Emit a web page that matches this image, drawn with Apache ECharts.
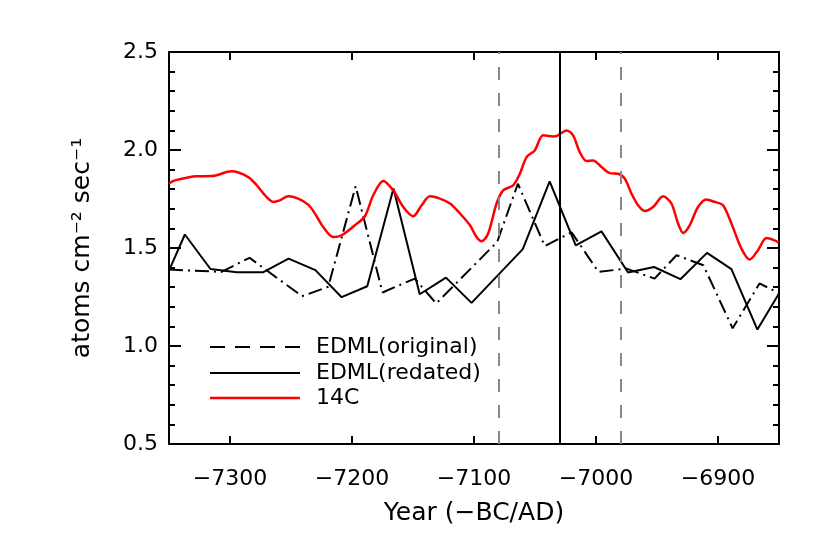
<!DOCTYPE html>
<html>
<head>
<meta charset="utf-8">
<script src="https://cdn.jsdelivr.net/npm/echarts@6/dist/echarts.min.js"></script>
<style>html,body{margin:0;padding:0;background:#fff}#c{width:830px;height:552px}</style>
</head>
<body>
<div id="c"></div>
<script>
// ---- data ----
const yearsOriginal = [-7350, -7307, -7284, -7241, -7219.5, -7197, -7175, -7148.5, -7131, -7081, -7064, -7042, -7020, -6998, -6975, -6952, -6934, -6912, -6888, -6866, -6850];
const edmlOriginal  = [1.39, 1.378, 1.45, 1.254, 1.302, 1.815, 1.273, 1.344, 1.217, 1.531, 1.828, 1.510, 1.58, 1.378, 1.395, 1.344, 1.463, 1.412, 1.09, 1.319, 1.27];

const yearsRedated = [-7350, -7337, -7316, -7294.5, -7273, -7252, -7230, -7208.5, -7187.5, -7166, -7144.5, -7123, -7102, -7060, -7038, -7016.6, -6995.5, -6973.7, -6952.4, -6930.8, -6909, -6889, -6867.7, -6850];
const edmlRedated  = [1.385, 1.569, 1.393, 1.376, 1.376, 1.446, 1.387, 1.249, 1.305, 1.803, 1.264, 1.349, 1.220, 1.494, 1.840, 1.514, 1.585, 1.375, 1.403, 1.341, 1.475, 1.392, 1.084, 1.268];

const years14C = [-7350, -7345.1, -7327.3, -7315.0, -7298.6, -7285.0, -7278.1, -7271.3, -7264.5, -7259.1, -7252.3, -7244.1, -7235.9, -7230.4, -7223.6, -7215.4, -7208.5, -7197.6, -7189.4, -7182.6, -7174.4, -7166.2, -7158.0, -7149.9, -7142.9, -7136.2, -7128.0, -7119.7, -7111.5, -7103.3, -7097.9, -7093.8, -7088.4, -7081.5, -7076.1, -7067.9, -7062.4, -7056.9, -7050.2, -7043.3, -7035.2, -7031.1, -7024.2, -7018.8, -7013.3, -7007.8, -7002.4, -6995.5, -6988.7, -6981.9, -6976.4, -6970.9, -6965.5, -6960.0, -6953.2, -6945.0, -6938.2, -6932.7, -6928.6, -6923.2, -6916.4, -6909.5, -6902.7, -6895.9, -6889.0, -6880.8, -6874.0, -6867.2, -6860.3, -6853.6, -6850.3];
const vals14C  = [1.830, 1.845, 1.866, 1.867, 1.891, 1.862, 1.820, 1.769, 1.735, 1.743, 1.764, 1.752, 1.721, 1.676, 1.607, 1.556, 1.565, 1.616, 1.662, 1.769, 1.842, 1.794, 1.709, 1.662, 1.718, 1.764, 1.752, 1.727, 1.676, 1.616, 1.556, 1.534, 1.574, 1.727, 1.794, 1.820, 1.879, 1.964, 1.998, 2.075, 2.069, 2.075, 2.100, 2.075, 1.989, 1.944, 1.947, 1.913, 1.882, 1.879, 1.854, 1.777, 1.718, 1.689, 1.709, 1.764, 1.727, 1.625, 1.577, 1.616, 1.709, 1.748, 1.735, 1.718, 1.625, 1.497, 1.441, 1.489, 1.551, 1.539, 1.528];

const xTicks = [-7300, -7200, -7100, -7000, -6900];
const dashedMarkers = [-7080, -6980];
const solidMarkers = [-7030];
const legendNames = ['EDML(original)', 'EDML(redated)', '14C'];

// ---- chart ----
const FONT = 'DejaVu Sans';
const zip = (xs, ys) => xs.map((x, i) => [x, ys[i]]);
const chart = echarts.init(document.getElementById('c'), null, {renderer: 'canvas'});

const gridL = 169, gridT = 52, gridW = 610, gridH = 392;

const legendY = [347, 373, 398];
const legendGraphics = [];
const legendStyles = [
  {stroke: '#000', lineWidth: 2, lineDash: [15, 10]},
  {stroke: '#000', lineWidth: 2},
  {stroke: '#ff0000', lineWidth: 2.5}
];
legendNames.forEach((n, i) => {
  legendGraphics.push({type: 'line', shape: {x1: 210, y1: legendY[i], x2: 300, y2: legendY[i]}, style: legendStyles[i]});
  legendGraphics.push({type: 'text', x: 316, y: legendY[i], style: {text: n, font: '22px "' + FONT + '"', fill: '#000', textVerticalAlign: 'middle', verticalAlign: 'middle'}});
});

const option = {
  animation: false,
  backgroundColor: '#fff',
  grid: {left: gridL, top: gridT, width: gridW, height: gridH, containLabel: false},
  xAxis: [{
    type: 'value', min: -7350, max: -6850, position: 'bottom',
    axisLine: {show: true, onZero: false, lineStyle: {color: '#000', width: 2}},
    axisTick: {show: true, inside: true, length: 8, lineStyle: {color: '#000', width: 2}, customValues: xTicks},
    axisLabel: {show: true, margin: 24, color: '#000', fontFamily: FONT, fontSize: 22, customValues: xTicks,
      formatter: v => String(v).replace('-', '\u2212')},
    splitLine: {show: false},
    name: 'Year (\u2212BC/AD)', nameLocation: 'middle', nameGap: 57,
    nameTextStyle: {color: '#000', fontFamily: FONT, fontSize: 25}
  }, {
    type: 'value', min: -7350, max: -6850, position: 'top',
    axisLine: {show: true, onZero: false, lineStyle: {color: '#000', width: 2}},
    axisTick: {show: true, inside: true, length: 8, lineStyle: {color: '#000', width: 2}, customValues: xTicks},
    axisLabel: {show: false}, splitLine: {show: false}
  }],
  yAxis: [{
    type: 'value', min: 0.5, max: 2.5, interval: 0.5, position: 'left',
    axisLine: {show: true, onZero: false, lineStyle: {color: '#000', width: 2}},
    axisTick: {show: true, inside: true, length: 12, lineStyle: {color: '#000', width: 2}},
    minorTick: {show: true, splitNumber: 5, length: 6, lineStyle: {color: '#000', width: 2}},
    axisLabel: {show: true, margin: 11, color: '#000', fontFamily: FONT, fontSize: 22, formatter: v => v.toFixed(1)},
    splitLine: {show: false},
    name: 'atoms cm\u207B\u00B2 sec\u207B\u00B9', nameLocation: 'middle', nameRotate: 90, nameGap: 74,
    nameTextStyle: {color: '#000', fontFamily: FONT, fontSize: 25}
  }, {
    type: 'value', min: 0.5, max: 2.5, interval: 0.5, position: 'right',
    axisLine: {show: true, onZero: false, lineStyle: {color: '#000', width: 2}},
    axisTick: {show: true, inside: true, length: 12, lineStyle: {color: '#000', width: 2}},
    minorTick: {show: true, splitNumber: 5, length: 6, lineStyle: {color: '#000', width: 2}},
    axisLabel: {show: false}, splitLine: {show: false}
  }],
  series: [{
    name: 'markers', type: 'line', data: [], silent: true,
    markLine: {
      silent: true, symbol: ['none', 'none'], label: {show: false}, animation: false,
      data: dashedMarkers.map(x => ({xAxis: x, lineStyle: {color: '#888', width: 2, type: [13, 13]}}))
        .concat(solidMarkers.map(x => ({xAxis: x, lineStyle: {color: '#000', width: 2, type: 'solid'}})))
    }
  }, {
    name: legendNames[0], type: 'line', data: zip(yearsOriginal, edmlOriginal), showSymbol: false, symbol: 'none',
    lineStyle: {color: '#000', width: 2, type: [14, 5, 2, 5]}, z: 3
  }, {
    name: legendNames[1], type: 'line', data: zip(yearsRedated, edmlRedated), showSymbol: false, symbol: 'none',
    lineStyle: {color: '#000', width: 2}, z: 3
  }, {
    name: legendNames[2], type: 'line', data: zip(years14C, vals14C), showSymbol: false, symbol: 'none', smooth: 0.3,
    lineStyle: {color: '#ff0000', width: 2.5}, z: 4
  }],
  graphic: legendGraphics
};
chart.setOption(option);
</script>
</body>
</html>
